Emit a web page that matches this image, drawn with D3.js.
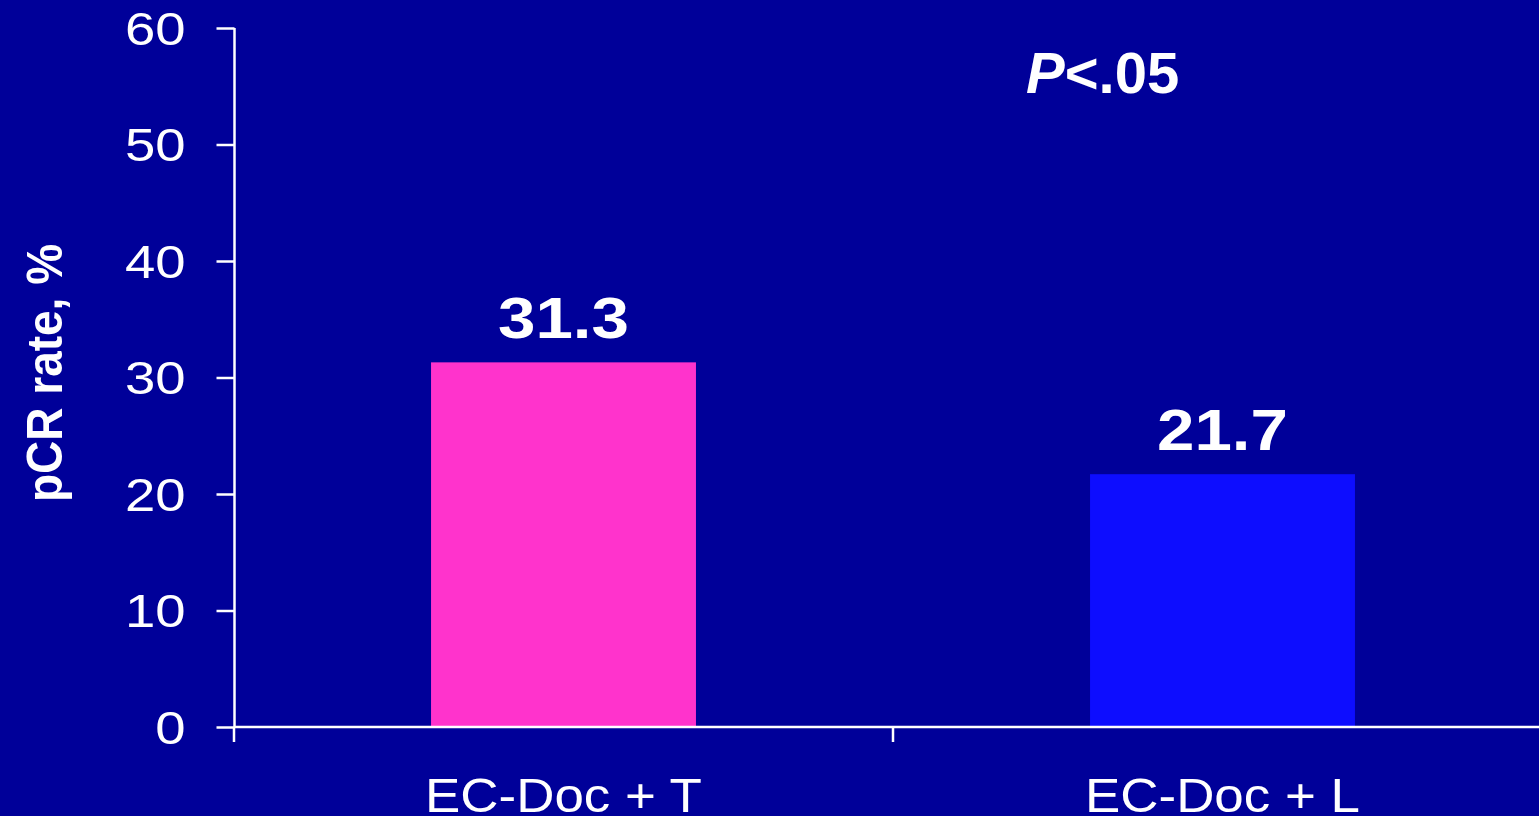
<!DOCTYPE html>
<html><head><meta charset="utf-8">
<script src="https://cdn.jsdelivr.net/npm/d3@7"></script>
<style>
html,body{margin:0;padding:0;background:#000099;overflow:hidden;}
text{font-family:"Liberation Sans",Arial,sans-serif;fill:#fff;}
</style></head>
<body>
<svg id="c" width="1539" height="816"></svg>
<script>
const categories = ["EC-Doc + T", "EC-Doc + L"];
const values = [31.3, 21.7];
const barColors = ["#FF33CC", "#0D0DFF"];
const yTicks = [0, 10, 20, 30, 40, 50, 60];
const yLabel = "pCR rate, %";
const pText = ["P", "<.05"];

const W = 1539, H = 816;
const SX = 1.16;
const svg = d3.select("#c");
svg.append("rect").attr("width", W).attr("height", H).attr("fill", "#000099");

const x = d3.scaleBand().domain(categories).range([234, 1552]).paddingInner(0.598).paddingOuter(0.299);
const xFull = d3.scaleBand().domain(categories).range([234, 1552]).padding(0);
const y = d3.scaleLinear().domain([0, 60]).range([727, 28]);

svg.selectAll("rect.bar").data(values).join("rect")
  .attr("class", "bar")
  .attr("x", (d, i) => x(categories[i]))
  .attr("width", x.bandwidth())
  .attr("y", d => y(d))
  .attr("height", d => y(0) - y(d))
  .attr("fill", (d, i) => barColors[i]);

const yAxis = svg.append("g").attr("transform", "translate(234.5,0)")
  .call(d3.axisLeft(y).tickValues(yTicks).tickSize(18).tickPadding(0).tickFormat(d3.format("d")));
yAxis.select(".domain").attr("stroke", "#fff").attr("stroke-width", 2.5).attr("d", `M0,${y(60)}V${y(0)}`);
yAxis.selectAll(".tick line").attr("stroke", "#fff").attr("stroke-width", 2.5);
yAxis.selectAll(".tick text")
  .attr("x", null).attr("dy", null)
  .attr("fill", "#fff").attr("font-size", 47)
  .attr("font-family", "Liberation Sans, Arial, sans-serif")
  .attr("text-anchor", "end")
  .attr("transform", `translate(-49,16) scale(${SX},1)`);

const xAxisG = svg.append("g").attr("transform", `translate(0,${y(0)})`);
xAxisG.append("line").attr("x1", 234).attr("x2", W).attr("y1", 0).attr("y2", 0)
  .attr("stroke", "#fff").attr("stroke-width", 2.5);
const xTickPos = [xFull(categories[0]), xFull(categories[1]), xFull(categories[1]) + xFull.bandwidth()];
xAxisG.selectAll("line.xt").data(xTickPos).join("line").attr("class", "xt")
  .attr("x1", d => d).attr("x2", d => d).attr("y1", 0).attr("y2", 15)
  .attr("stroke", "#fff").attr("stroke-width", 2.5);

svg.selectAll("text.cat").data(categories).join("text").attr("class", "cat")
  .attr("transform", d => `translate(${x(d) + x.bandwidth() / 2},812) scale(1.08,1)`)
  .attr("text-anchor", "middle").attr("font-size", 49).text(d => d);

svg.selectAll("text.val").data(values).join("text").attr("class", "val")
  .attr("transform", (d, i) => `translate(${x(categories[i]) + x.bandwidth() / 2},${y(d) - 24}) scale(${SX},1)`)
  .attr("text-anchor", "middle").attr("font-size", 58).attr("font-weight", "bold")
  .text(d => d.toFixed(1));

svg.append("text")
  .attr("transform", "translate(62,373) rotate(-90) scale(1,1.1)")
  .attr("text-anchor", "middle").attr("font-size", 46).attr("font-weight", "bold")
  .text(yLabel);

const pt = svg.append("text")
  .attr("transform", "translate(1026,93)")
  .attr("font-size", 58).attr("font-weight", "bold");
pt.append("tspan").attr("font-style", "italic").text(pText[0]);
pt.append("tspan").text(pText[1]);
</script>
</body></html>
